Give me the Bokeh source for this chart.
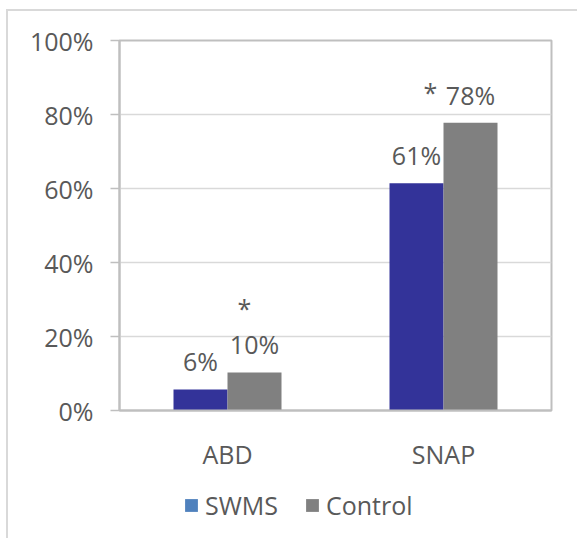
from bokeh.plotting import figure
from bokeh.layouts import column
from bokeh.models import (ColumnDataSource, FactorRange, Range1d, NumeralTickFormatter,
                          Legend, LegendItem, FixedTicker)
from bokeh.transform import dodge
from bokeh.core.properties import value
from bokeh.embed import file_html
from bokeh.resources import INLINE

# ---- data ----
categories = ["ABD", "SNAP"]
swms = [0.057, 0.614]
control = [0.103, 0.778]
swms_labels = ["6%", "61%"]
control_labels = ["10%", "78%"]
control_sig = ["*", "*"]
series_names = ["SWMS", "Control"]
y_ticks = [0, 0.2, 0.4, 0.6, 0.8, 1.0]

FONT = "Open Sans"
TXT = "#595959"
FS = "25px"

src = ColumnDataSource(dict(cat=categories, swms=swms, control=control,
                            swms_lab=swms_labels, control_lab=control_labels,
                            sig=control_sig))

p = figure(x_range=FactorRange(*categories), y_range=Range1d(0, 1),
           width=569, height=469, output_backend="svg", toolbar_location=None,
           min_border_left=111, min_border_top=29, min_border_right=26,
           min_border_bottom=70)

p.outline_line_color = "#bfbfbf"
p.outline_line_width = 2

p.vbar(x=dodge("cat", -0.125, range=p.x_range), top="swms", width=0.25, source=src,
       fill_color="#333399", line_color=None)
p.vbar(x=dodge("cat", 0.125, range=p.x_range), top="control", width=0.25, source=src,
       fill_color="#808080", line_color=None)

p.text(x=dodge("cat", -0.125, range=p.x_range), y="swms", text="swms_lab", source=src,
       text_font=value(FONT), text_font_size=FS, text_color=TXT,
       text_align="center", text_baseline="alphabetic", y_offset=-28)
p.text(x=dodge("cat", 0.125, range=p.x_range), y="control", text="control_lab", source=src,
       text_font=value(FONT), text_font_size=FS, text_color=TXT,
       text_align="center", text_baseline="alphabetic", y_offset=-28)

# significance markers
src_a = ColumnDataSource(dict(cat=[categories[0]], y=[control[0]], t=[control_sig[0]]))
src_b = ColumnDataSource(dict(cat=[categories[1]], y=[control[1]], t=[control_sig[1]]))
p.text(x=dodge("cat", 0.125, range=p.x_range), y="y", text="t", source=src_a,
       text_font=value(FONT), text_font_size=FS, text_color=TXT,
       text_align="center", text_baseline="alphabetic", x_offset=-10, y_offset=-64)
p.text(x=dodge("cat", 0.125, range=p.x_range), y="y", text="t", source=src_b,
       text_font=value(FONT), text_font_size=FS, text_color=TXT,
       text_align="center", text_baseline="alphabetic", x_offset=-40, y_offset=-31)

# axes
p.yaxis.ticker = FixedTicker(ticks=y_ticks)
p.yaxis.formatter = NumeralTickFormatter(format="0%")
p.yaxis.major_tick_out = 9
p.yaxis.major_tick_in = 0
p.yaxis.minor_tick_line_color = None
p.yaxis.major_tick_line_color = "#bfbfbf"
p.yaxis.major_tick_line_width = 1.5
p.yaxis.axis_line_color = "#bfbfbf"
p.yaxis.axis_line_width = 2
p.yaxis.major_label_standoff = 17
p.yaxis.major_label_text_font = FONT
p.yaxis.major_label_text_font_size = FS
p.yaxis.major_label_text_color = TXT

p.xaxis.major_tick_line_color = None
p.xaxis.minor_tick_line_color = None
p.xaxis.axis_line_color = "#bfbfbf"
p.xaxis.axis_line_width = 2
p.xaxis.major_label_standoff = 20
p.xaxis.major_label_text_font = FONT
p.xaxis.major_label_text_font_size = FS
p.xaxis.major_label_text_color = TXT

p.xgrid.grid_line_color = None
p.ygrid.grid_line_color = "#d9d9d9"
p.ygrid.grid_line_width = 1.5

# legend strip (separate small figure, swatch colours as in the original legend)
lg = figure(width=569, height=58, output_backend="svg", toolbar_location=None,
            x_range=Range1d(0, 1), y_range=Range1d(0, 1),
            x_axis_type=None, y_axis_type=None,
            min_border_left=0, min_border_right=0, min_border_top=0, min_border_bottom=0)
lg.outline_line_color = None
lg.grid.grid_line_color = None
# legend-only renderers: their single box lies outside the visible range
r1 = lg.quad(left=[-5], right=[-4], bottom=[-5], top=[-4], fill_color="#4f81bd", line_color=None)
r2 = lg.quad(left=[-5], right=[-4], bottom=[-5], top=[-4], fill_color="#808080", line_color=None)
legend = Legend(items=[LegendItem(label=series_names[0], renderers=[r1]),
                       LegendItem(label=series_names[1], renderers=[r2])],
                orientation="horizontal", location=(64, 16),
                glyph_width=16, glyph_height=16, label_standoff=6, spacing=26,
                padding=0, margin=0, border_line_color=None, background_fill_alpha=0,
                label_text_font=FONT, label_text_font_size=FS, label_text_color=TXT)
lg.add_layout(legend, "center")

layout = column(p, lg, spacing=0)
layout.styles = {"margin-left": "6px", "margin-top": "9px",
                 "border-left": "2px solid #d9d9d9", "border-top": "2px solid #d9d9d9"}

open("out.html", "w").write(file_html(layout, INLINE))
